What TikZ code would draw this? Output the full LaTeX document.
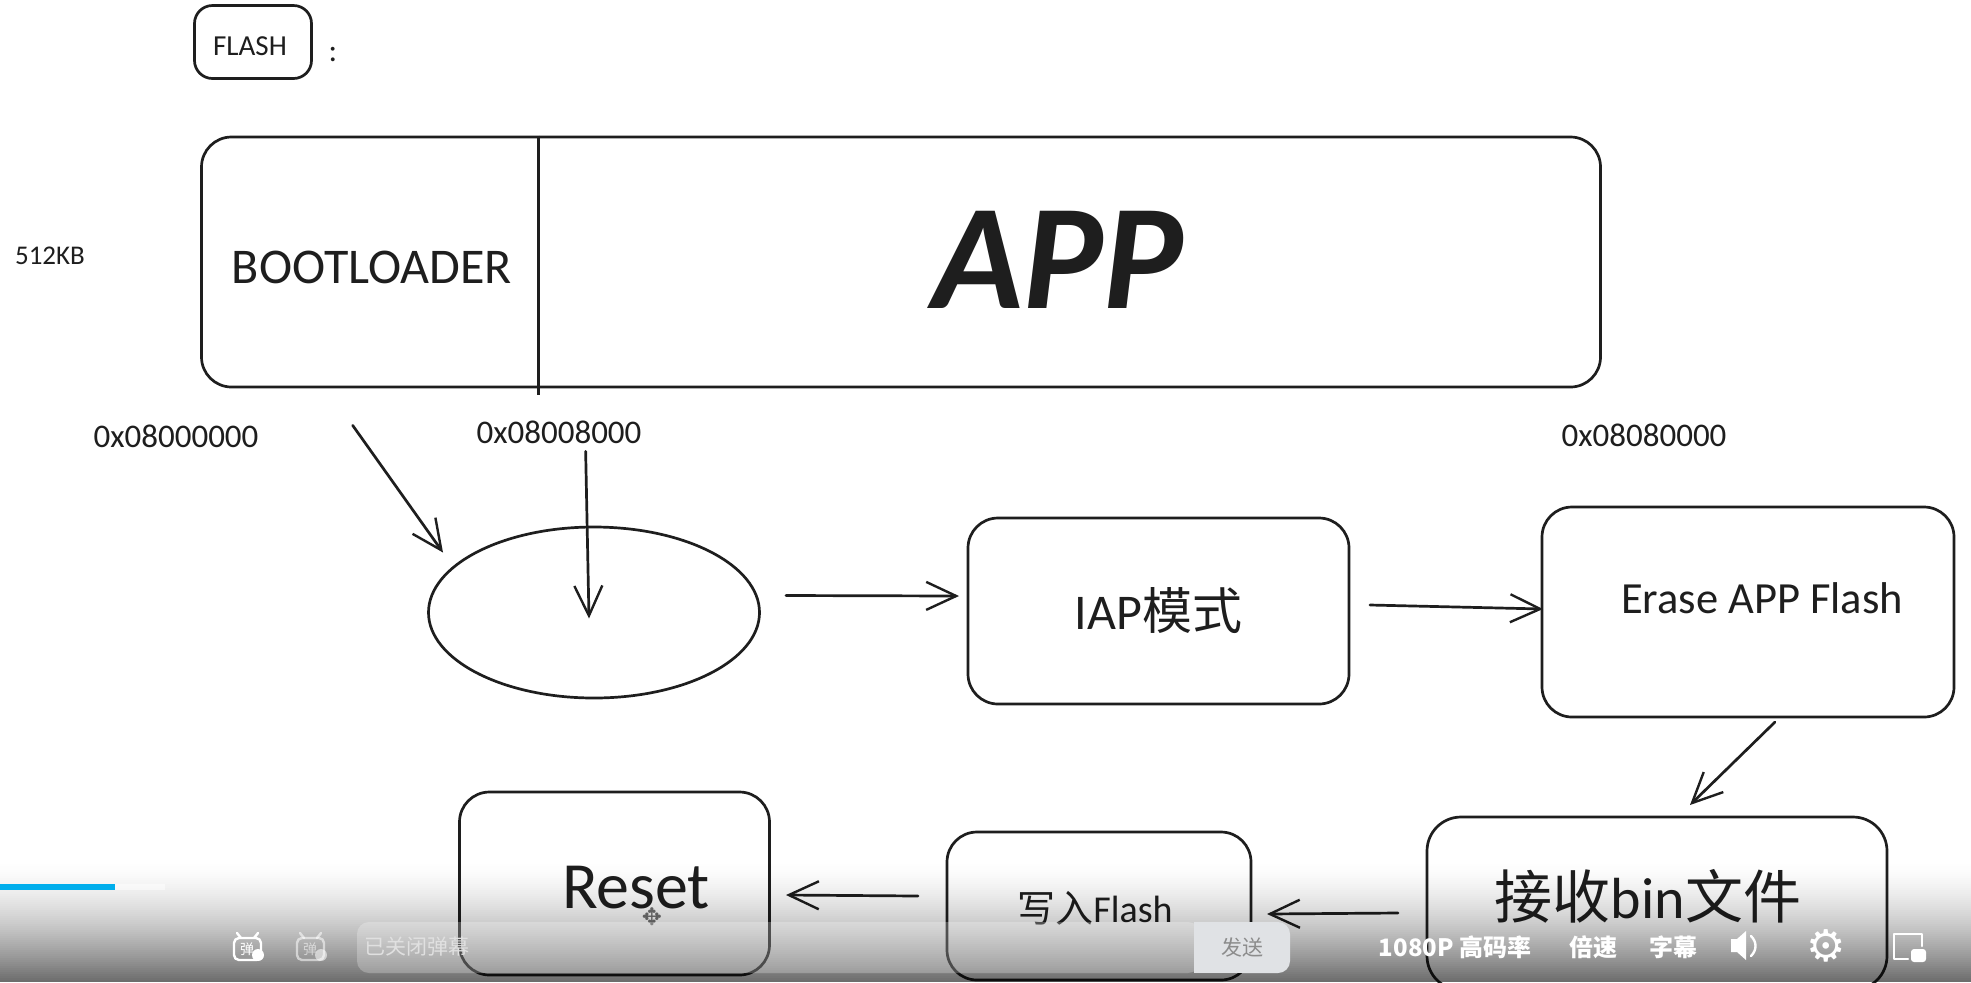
\documentclass[tikz,border=0pt]{standalone}
\usepackage{fontspec}
\setmainfont{Carlito}
\newfontfamily\cjk{Noto Sans CJK SC}
\newfontfamily\sym{DejaVu Sans}
\usetikzlibrary{shapes.geometric,arrows.meta}
\definecolor{ink}{HTML}{1E1E1E}
\definecolor{barblue}{HTML}{00AEEC}
\definecolor{sendbg}{HTML}{E0E2E5}
\newcommand{\pxfont}[1]{\fontsize{\dimexpr#1pt/2\relax}{\dimexpr#1pt*6/10\relax}\selectfont}
\tikzset{
  x=0.5pt,y=-0.5pt,
  box/.style={draw=ink,line width=1.35pt,rounded corners=#1,inner sep=0pt,align=center,text=ink},
  box/.default=14pt,
  label/.style={inner sep=0pt,text=ink,align=center},
  arr/.style={draw=ink,line width=1.35pt,line cap=round,-{Straight Barb[length=15pt,width=14pt,line width=1.2pt]}},
  ui/.style={inner sep=0pt,text=white,font=\cjk\bfseries\pxfont{24}},
  uiline/.style={draw=white,line width=1.2pt,line cap=round,line join=round},
}
\begin{document}
\begin{tikzpicture}
\useasboundingbox (0,0) rectangle (1971,982);
\clip (0,0) rectangle (1971,982);
\fill[white] (0,0) rectangle (1971,982);
% boxes
\node[box=9pt,minimum width=58.5pt,minimum height=36.5pt] (flash) at (253,42) {};
\node[label] (flashtxt) at (250,46) {\pxfont{29}FLASH};
\node[label] (colon) at (333,55) {\pxfont{32}:};
\node[box=15pt,minimum width=699.5pt,minimum height=125pt] (big) at (901,262) {};
\node[label] (size) at (50,256) {\pxfont{27}512KB};
\node[label] (boot) at (372,267) {\pxfont{50}BOOTLOADER};
\node[label] (app) at (1058,260) {\pxfont{150}\bfseries\itshape APP};
\node[label] (addra) at (176,436) {\pxfont{33}0x08000000};
\node[label] (addrb) at (559,432) {\pxfont{33}0x08008000};
\node[label] (addrc) at (1644,435) {\pxfont{33}0x08080000};
\node[draw=ink,line width=1.35pt,ellipse,inner sep=0pt,minimum width=165.5pt,minimum height=85.5pt] (ell) at (594,612.5) {};
\node[box=15pt,minimum width=190.5pt,minimum height=93pt] (iap) at (1158.5,611) {\pxfont{50}IAP{\cjk 模式}};
\node[box=15pt,minimum width=206pt,minimum height=105pt] (erase) at (1748,612) {};
\node[label] (erasetxt) at (1762,598) {\pxfont{44.5}Erase APP Flash};
\node[box=17pt,minimum width=230pt,minimum height=86.5pt] (bin) at (1657,903.5) {};
\node[label] (bintxt) at (1648,896) {\pxfont{58}{\cjk 接收}bin{\cjk 文件}};
\node[box=15pt,minimum width=152pt,minimum height=74pt] (write) at (1099,906) {};
\node[label] (writetxt) at (1095,908) {\pxfont{38}{\cjk 写入}Flash};
\node[box=15pt,minimum width=155pt,minimum height=91.5pt] (reset) at (614.5,883.5) {};
\node[label] (resettxt) at (636,888) {\pxfont{66}Reset};
\node[inner sep=0pt,text=black!55] (cursor) at (652,917) {\sym\pxfont{24}✥};
% connectors
\draw[draw=ink,line width=1.35pt] ([shift={(338.5,0)}]big.north west) -- ([shift={(338.5,7)}]big.south west);
\draw[arr] ([shift={(152.5,37)}]big.south west) -- ([shift={(-151,-60)}]ell.center);
\draw[arr] ([shift={(385.5,63)}]big.south west) -- ([shift={(-5,6)}]ell.center);
\draw[arr] ([shift={(192,-17)}]ell.center) -- ([shift={(-199.5,-15)}]iap.center);
\draw[arr] ([shift={(211.5,-6)}]iap.center) -- ([shift={(-205,-3)}]erase.center);
\draw[arr] ([shift={(27,110)}]erase.center) -- ([shift={(33,-98.5)}]bin.center);
\draw[arr] ([shift={(-259,9.5)}]bin.center) -- ([shift={(168,8)}]write.center);
\draw[arr] ([shift={(-181,-10)}]write.center) -- ([shift={(171.5,11.5)}]reset.center);
% player overlay gradient
\foreach \i in {0,...,60} {
  \pgfmathsetmacro{\yy}{860+2*\i}
  \pgfmathsetmacro{\aa}{0.58*pow((\i+0.5)/61,1.6)}
  \fill[black,fill opacity=\aa] (0,\yy) rectangle (1971,\yy+2);
}
% progress bar
\fill[white,fill opacity=0.5] (115,884) rectangle (165,890);
\fill[barblue] (0,884) rectangle (115,890);
% input bar
\fill[white,fill opacity=0.25,rounded corners=6pt] (357,922) rectangle (1200,973);
\fill[fill=sendbg,rounded corners=6pt] (1230,922) rectangle (1290,973);
\fill[fill=sendbg] (1194,922) rectangle (1250,973);
\node[inner sep=0pt,text=white!88!black,font=\cjk\pxfont{21}] (hint) at (417,947) {已关闭弹幕};
\node[inner sep=0pt,text=black!45,font=\cjk\pxfont{21}] (send) at (1242,947) {发送};
\node[ui] (quality) at (1455,947) {1080P 高码率};
\node[ui] (speed) at (1593,947) {倍速};
\node[ui] (subs) at (1673,947) {字幕};
% danmaku icons
\begin{scope}
\draw[uiline,rounded corners=2.5pt] (234,938) rectangle (261,960);
\draw[uiline] (241,938) -- (237,933) (254,938) -- (258,933);
\node[inner sep=0pt,text=white,font=\cjk\pxfont{14}] (dm) at (247,949) {弹};
\fill[white] (258,955) circle (6);
\end{scope}
\begin{scope}[opacity=0.55]
\draw[uiline,rounded corners=2.5pt] (297,938) rectangle (324,960);
\draw[uiline] (304,938) -- (300,933) (317,938) -- (321,933);
\node[inner sep=0pt,text=white,font=\cjk\pxfont{14}] (dmb) at (310,949) {弹};
\fill[white] (321,955) circle (6);
\end{scope}
% speaker
\fill[white] (1731,939) -- (1737,939) -- (1746,931) -- (1746,960) -- (1737,952) -- (1731,952) -- cycle;
\draw[uiline] (1751,936) .. controls (1757,942) and (1757,950) .. (1751,956);
% gear
\node[inner sep=0pt,text=white] (gear) at (1826,946) {\sym\pxfont{44}⚙};
% picture in picture
\draw[uiline] (1922,946) -- (1922,934) -- (1894,934) -- (1894,959) -- (1908,959);
\fill[white,rounded corners=1.5pt] (1911,949) rectangle (1926,962);
\end{tikzpicture}
\end{document}
